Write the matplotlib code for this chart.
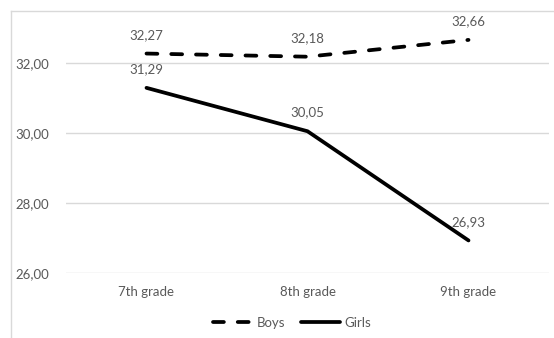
import matplotlib.pyplot as plt
from matplotlib.lines import Line2D

grades = ['7th grade', '8th grade', '9th grade']
boys = [32.27, 32.18, 32.66]
girls = [31.29, 30.05, 26.93]
y_ticks = [26, 28, 30, 32]

text_color = '#595959'
grid_color = '#d9d9d9'
plt.rcParams['font.family'] = ['Lato', 'DejaVu Sans']


def fmt(v):
    # decimal comma
    return ('%.2f' % v).replace('.', ',')


fig = plt.figure(figsize=(5.54, 3.38), dpi=100)
ax = fig.add_axes([66 / 554, 65 / 338, 483 / 554, 262 / 338])

x = list(range(len(grades)))
ax.plot(x, boys, color='black', lw=2.7, linestyle=(0, (2.9, 3.7)),
        dash_capstyle='round', solid_capstyle='round', label='Boys')
ax.plot(x, girls, color='black', lw=2.7, solid_capstyle='round',
        solid_joinstyle='miter', label='Girls')

# value labels above every point
for series in (boys, girls):
    for xi, v in zip(x, series):
        ax.annotate(fmt(v), (xi, v), xytext=(0, 13.5), textcoords='offset points',
                    ha='center', va='center', fontsize=9.5, color=text_color)

ax.set_xlim(-0.5, len(grades) - 0.5)
ax.set_ylim(26, 26 + 262 / 35)
ax.set_xticks(x)
ax.set_xticklabels(grades)
ax.set_yticks(y_ticks)
ax.set_yticklabels([fmt(v) for v in y_ticks])
ax.tick_params(length=0, labelsize=9.5, labelcolor=text_color)
ax.tick_params(axis='y', pad=12)
ax.tick_params(axis='x', pad=9)
ax.grid(axis='y', color=grid_color, lw=1.0)
ax.set_axisbelow(True)
for s in ax.spines.values():
    s.set_visible(False)

# chart area border (left and top edges)
fig.add_artist(Line2D([11 / 554, 11 / 554], [0, 1 - 11 / 338], color=grid_color, lw=1.0))
fig.add_artist(Line2D([11 / 554, 1], [1 - 11 / 338, 1 - 11 / 338], color=grid_color, lw=1.0))

fig.legend(loc='center', bbox_to_anchor=(292 / 554, 1 - 323 / 338), ncol=2, frameon=False,
           fontsize=9.5, labelcolor=text_color, handlelength=3.0, handletextpad=0.3,
           columnspacing=1.2)

fig.savefig('out.png', dpi=100)
